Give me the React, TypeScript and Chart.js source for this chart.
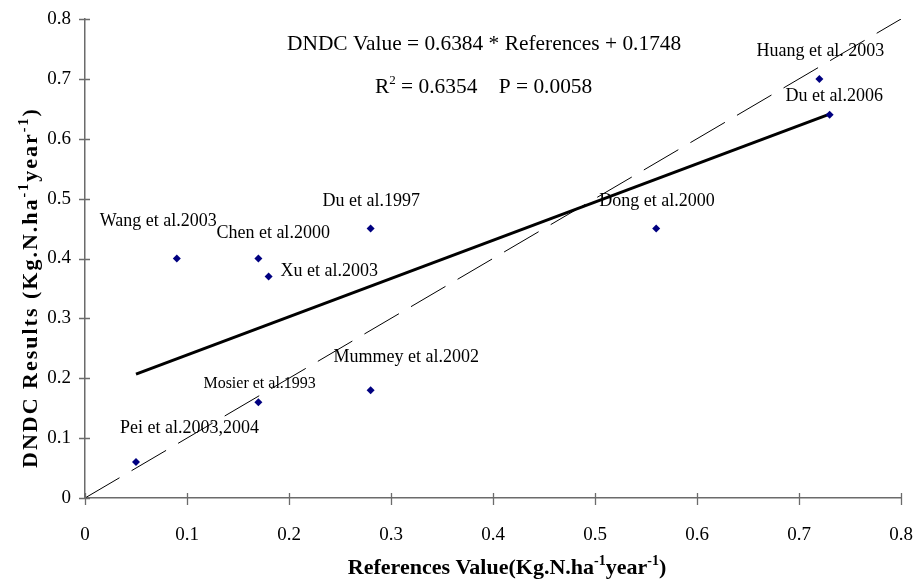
import React, { useEffect, useRef } from "react";
import { Chart, registerables } from "chart.js";

Chart.register(...registerables);

// ---------- data ----------
const studyNames = [
  "Pei et al.2003,2004",
  "Mosier et al.1993",
  "Mummey et al.2002",
  "Wang et al.2003",
  "Chen et al.2000",
  "Xu et al.2003",
  "Du et al.1997",
  "Dong et al.2000",
  "Huang et al. 2003",
  "Du et al.2006",
];
const referenceValues = [0.05, 0.17, 0.28, 0.09, 0.17, 0.18, 0.28, 0.56, 0.72, 0.73];
const dndcValues = [0.06, 0.16, 0.18, 0.4, 0.4, 0.37, 0.45, 0.45, 0.7, 0.64];

const fitLineX = [0.05, 0.73];
const fitLineY = [0.207, 0.641];
const identityLineX = [0, 0.8];
const identityLineY = [0, 0.8];

const xTickValues = [0, 0.1, 0.2, 0.3, 0.4, 0.5, 0.6, 0.7, 0.8];
const yTickValues = [0, 0.1, 0.2, 0.3, 0.4, 0.5, 0.6, 0.7, 0.8];

const equationText = "DNDC Value = 0.6384 * References + 0.1748";
const r2Parts = ["R", "2", " = 0.6354    P = 0.0058"];
const xTitleParts = ["References Value(Kg.N.ha", "-1", "year", "-1", ")"];
const yTitleParts = ["DNDC Results (Kg.N.ha", "-1", "year", "-1", ")"];

// ---------- styles (label placement relative to the point, in px) ----------
const labelStyle = [
  { dx: -16, dy: -29, size: 18 },
  { dx: -55, dy: -14, size: 16 },
  { dx: -37, dy: -28, size: 18 },
  { dx: -77, dy: -33, size: 18 },
  { dx: -42, dy: -21, size: 18 },
  { dx: 12, dy: 0, size: 18 },
  { dx: -48, dy: -23, size: 18 },
  { dx: -57, dy: -23, size: 18 },
  { dx: -63, dy: -23, size: 18 },
  { dx: -44, dy: -14, size: 18 },
];

const SERIF = "'Liberation Serif', 'Times New Roman', serif";
const AXIS_COLOR = "#6b6b6b";

function fmt(v: number) {
  return String(Number(v.toFixed(1)));
}

// draw a sequence of parts alternating normal / superscript
function drawRich(
  ctx: CanvasRenderingContext2D,
  parts: string[],
  x: number,
  y: number,
  size: number,
  supSize: number,
  supRaise: number,
  weight: string,
  align: "left" | "center"
) {
  const fontN = `${weight} ${size}px ${SERIF}`;
  const fontS = `${weight} ${supSize}px ${SERIF}`;
  const widths = parts.map((p, i) => {
    ctx.font = i % 2 === 1 ? fontS : fontN;
    return ctx.measureText(p).width;
  });
  const total = widths.reduce((a, b) => a + b, 0);
  let cx = align === "center" ? x - total / 2 : x;
  ctx.textAlign = "left";
  ctx.textBaseline = "alphabetic";
  parts.forEach((p, i) => {
    const sup = i % 2 === 1;
    ctx.font = sup ? fontS : fontN;
    ctx.fillText(p, cx, sup ? y - supRaise : y);
    cx += widths[i];
  });
}

const annotationPlugin = {
  id: "annotations",
  afterDraw(chart: any) {
    const ctx: CanvasRenderingContext2D = chart.ctx;
    const xs = chart.scales.x;
    const ys = chart.scales.y;
    const area = chart.chartArea;
    ctx.save();

    // crossing tick marks
    ctx.strokeStyle = AXIS_COLOR;
    ctx.lineWidth = 1.3;
    ctx.beginPath();
    xTickValues.forEach((v) => {
      const px = Math.round(xs.getPixelForValue(v)) + 0.5;
      ctx.moveTo(px, area.bottom - 5);
      ctx.lineTo(px, area.bottom + 7);
    });
    yTickValues.forEach((v) => {
      const py = Math.round(ys.getPixelForValue(v)) + 0.5;
      ctx.moveTo(area.left - 6, py);
      ctx.lineTo(area.left + 5, py);
    });
    ctx.stroke();

    ctx.fillStyle = "#000";
    // point labels
    studyNames.forEach((name, i) => {
      const st = labelStyle[i];
      const px = xs.getPixelForValue(referenceValues[i]);
      const py = ys.getPixelForValue(dndcValues[i]);
      ctx.font = `${st.size}px ${SERIF}`;
      ctx.textAlign = "left";
      ctx.textBaseline = "alphabetic";
      ctx.fillText(name, px + st.dx, py + st.dy);
    });

    // equation
    ctx.font = `21.4px ${SERIF}`;
    ctx.textAlign = "left";
    ctx.fillText(equationText, 287, 50);
    drawRich(ctx, r2Parts, 375, 93, 21.4, 13, 9, "normal", "left");

    // x title
    drawRich(ctx, xTitleParts, 507, 574, 22, 14, 9, "bold", "center");

    // y title
    ctx.save();
    ctx.translate(37, 468);
    ctx.rotate(-Math.PI / 2);
    (ctx as any).letterSpacing = "2px";
    drawRich(ctx, yTitleParts, 0, 0, 22, 14, 9, "bold", "left");
    ctx.restore();

    ctx.restore();
  },
};

export default function App() {
  const canvasRef = useRef<HTMLCanvasElement | null>(null);

  useEffect(() => {
    if (!canvasRef.current) return;
    const points = referenceValues.map((x, i) => ({ x, y: dndcValues[i] }));
    const fit = fitLineX.map((x, i) => ({ x, y: fitLineY[i] }));
    const identity = identityLineX.map((x, i) => ({ x, y: identityLineY[i] }));

    const chart = new Chart(canvasRef.current, {
      type: "scatter",
      data: {
        datasets: [
          {
            label: "Studies",
            data: points,
            pointStyle: "rectRot",
            pointRadius: 4,
            backgroundColor: "#000080",
            borderColor: "#000080",
            borderWidth: 0,
            showLine: false,
            order: 0,
          },
          {
            label: "Fit",
            data: fit,
            showLine: true,
            borderColor: "#000",
            borderWidth: 3,
            pointRadius: 0,
            fill: false,
            order: 1,
          },
          {
            label: "1:1",
            data: identity,
            showLine: true,
            borderColor: "#000",
            borderWidth: 1,
            borderDash: [40, 14],
            pointRadius: 0,
            fill: false,
            order: 2,
          },
        ],
      },
      options: {
        responsive: false,
        animation: false,
        layout: { padding: { left: 0, top: 19, right: 13, bottom: 0 } },
        plugins: {
          legend: { display: false },
          tooltip: { enabled: false },
          title: { display: false },
        },
        scales: {
          x: {
            type: "linear",
            min: 0,
            max: 0.8,
            afterBuildTicks: (scale: any) => {
              scale.ticks = xTickValues.map((v) => ({ value: v }));
            },
            afterFit: (scale: any) => {
              scale.height = 83;
              scale.paddingLeft = 0;
              scale.paddingRight = 0;
            },
            grid: { display: false, drawTicks: false },
            border: { display: true, color: AXIS_COLOR, width: 1.5 },
            ticks: {
              padding: 26,
              color: "#000",
              maxRotation: 0,
              autoSkip: false,
              font: { family: SERIF, size: 19 },
              callback: (v: any) => fmt(Number(v)),
            },
          },
          y: {
            type: "linear",
            min: 0,
            max: 0.8,
            afterBuildTicks: (scale: any) => {
              scale.ticks = yTickValues.map((v) => ({ value: v }));
            },
            afterFit: (scale: any) => {
              scale.width = 85;
              scale.paddingTop = 0;
              scale.paddingBottom = 0;
            },
            grid: { display: false, drawTicks: false },
            border: { display: true, color: AXIS_COLOR, width: 1.5 },
            ticks: {
              padding: 14,
              color: "#000",
              autoSkip: false,
              font: { family: SERIF, size: 19 },
              callback: (v: any) => fmt(Number(v)),
            },
          },
        },
      },
      plugins: [annotationPlugin],
    });
    return () => chart.destroy();
  }, []);

  return (
    <div style={{ position: "absolute", left: 0, top: 0, width: 914, height: 581, background: "#fff" }}>
      <canvas ref={canvasRef} width={914} height={581} />
    </div>
  );
}
